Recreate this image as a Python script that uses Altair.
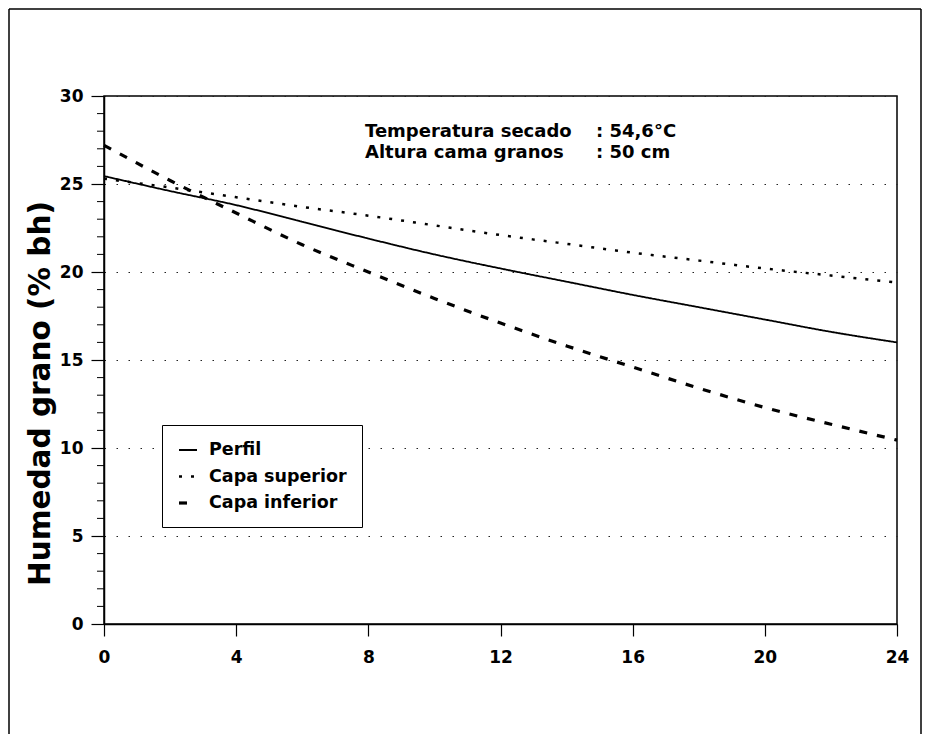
import altair as alt
import pandas as pd

# ---- data ----
hours = [0, 2, 4, 6, 8, 10, 12, 14, 16, 18, 20, 22, 24]
perfil = [25.45, 24.6, 23.8, 22.85, 21.9, 21.0, 20.2, 19.45, 18.7, 18.0, 17.3, 16.6, 16.0]
superior = [25.3, 24.8, 24.25, 23.7, 23.2, 22.65, 22.1, 21.6, 21.1, 20.65, 20.2, 19.8, 19.4]
inferior = [27.2, 25.2, 23.35, 21.55, 20.0, 18.5, 17.1, 15.8, 14.6, 13.4, 12.3, 11.35, 10.45]
series_names = ["Perfil", "Capa superior", "Capa inferior"]
y_ticks = [0, 5, 10, 15, 20, 25, 30]
x_ticks = [0, 4, 8, 12, 16, 20, 24]
minor_y = [1, 2, 3, 4, 6, 7, 8, 9, 11, 12, 13, 14, 16, 17, 18, 19, 21, 22, 23, 24, 26, 27, 28, 29]
note_labels = ["Temperatura  secado", "Altura cama granos"]
note_values = [": 54,6°C", ":  50 cm"]

rows = []
for name, vals in zip(series_names, [perfil, superior, inferior]):
    for h, v in zip(hours, vals):
        rows.append({"hora": h, "humedad": v, "serie": name})
df = pd.DataFrame(rows)

FONT = "DejaVu Sans"
W, H = 793, 528

xscale = alt.Scale(domain=[0, 24], nice=False, zero=False)
yscale = alt.Scale(domain=[0, 30], nice=False)

yaxis = alt.Axis(values=y_ticks, title="Humedad grano (% bh)", grid=True,
                 gridDash=[1.5, 10.5], gridColor="#222", gridWidth=1,
                 tickSize=13, labelPadding=8,
                 titleFont=FONT, titleFontWeight="bold", titleFontSize=29.5,
                 titleColor="black", titleAngle=270, titleX=-64, titleY=297,
                 titleAlign="center", titleBaseline="middle")

legend = alt.Legend(
    title=None, orient="none", legendX=58, legendY=329, padding=15,
    strokeColor="black", fillColor="white", symbolType="stroke", symbolSize=324,
    symbolStrokeColor="black", labelFont=FONT, labelFontWeight="bold",
    labelFontSize=17.5, labelColor="black", labelOffset=10, rowPadding=7,
)

lines = alt.Chart(df).mark_line(color="black", interpolate="monotone").encode(
    x=alt.X("hora:Q", scale=xscale,
            axis=alt.Axis(values=x_ticks, title=None, grid=False, tickSize=12,
                          labelPadding=13, labelFlush=False)),
    y=alt.Y("humedad:Q", scale=yscale, axis=yaxis),
    strokeDash=alt.StrokeDash("serie:N",
                              scale=alt.Scale(domain=series_names, range=[[1, 0], [3, 9], [8, 10]]),
                              legend=legend),
    strokeWidth=alt.StrokeWidth("serie:N",
                                scale=alt.Scale(domain=series_names, range=[1.8, 3.2, 1.4]),
                                legend=legend),
)

minor = alt.Chart(pd.DataFrame({"humedad": minor_y})).mark_rule(color="black", strokeWidth=1).encode(
    y=alt.Y("humedad:Q", scale=yscale, axis=yaxis),
    x=alt.value(-7), x2=alt.value(0),
)

blank = alt.Data(values=[{}])
frame_left = alt.Chart(blank).mark_rule(color="black", strokeWidth=1.5).encode(
    x=alt.value(-95), y=alt.value(-87), y2=alt.value(650))
frame_top = alt.Chart(blank).mark_rule(color="black", strokeWidth=1.5).encode(
    x=alt.value(-95), x2=alt.value(817), y=alt.value(-87))
frame_right = alt.Chart(blank).mark_rule(color="black", strokeWidth=1.5).encode(
    x=alt.value(817), y=alt.value(-87), y2=alt.value(650))

note_layers = []
for i, (lab, val) in enumerate(zip(note_labels, note_values)):
    d = pd.DataFrame({"label": [lab], "value": [val]})
    for field, xpos in (("label", 261), ("value", 492)):
        note_layers.append(
            alt.Chart(d).mark_text(
                font=FONT, fontWeight="bold", fontSize=18, color="black",
                align="left", baseline="alphabetic"
            ).encode(text=f"{field}:N", x=alt.value(xpos), y=alt.value(41 + 21 * i))
        )

chart = alt.layer(lines, minor, *note_layers, frame_left, frame_top, frame_right).resolve_scale(
    y="shared"
).properties(
    width=W, height=H,
    autosize=alt.AutoSizeParams(type="none"),
    padding={"left": 96, "top": 88, "right": 25, "bottom": 110},
    background="white",
).configure_view(stroke="black", strokeWidth=1.5).configure_axis(
    domainColor="black", domainWidth=1.5, tickColor="black", tickWidth=1.2,
    labelColor="black", labelFont=FONT, labelFontWeight="bold", labelFontSize=17,
)

chart.save("out.html", embed_options={"renderer": "svg", "actions": False})
